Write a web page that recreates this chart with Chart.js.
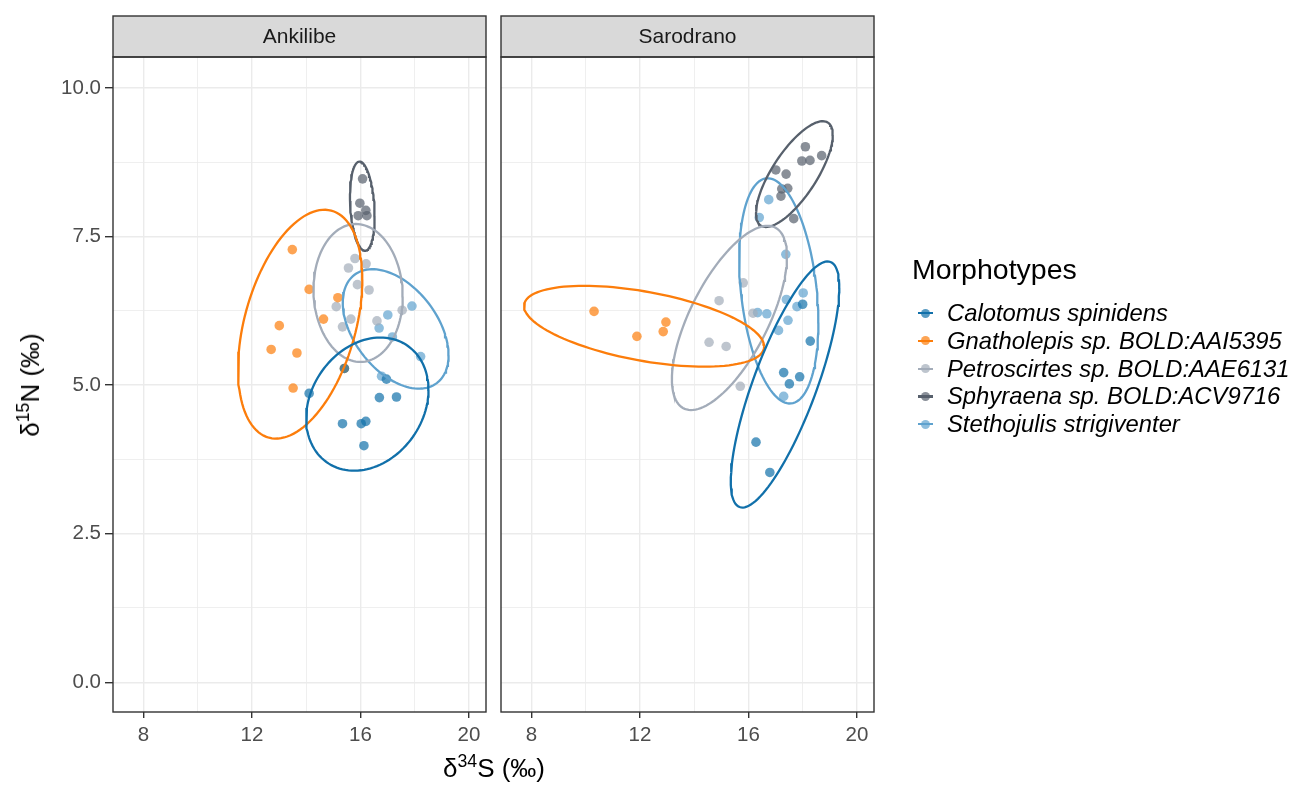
<!DOCTYPE html>
<html><head><meta charset="utf-8">
<script src="https://cdn.jsdelivr.net/npm/chart.js@4/dist/chart.umd.min.js"></script>
<style>
body{margin:0;background:#fff;}
#wrap{position:relative;width:1301px;height:785px;font-family:"Liberation Sans",Arial,sans-serif;overflow:hidden;}
canvas{position:absolute;left:0;top:0;}
.axtitle{position:absolute;white-space:nowrap;font-size:26px;color:#000;line-height:1;}
.axtitle sup{font-size:68%;vertical-align:0.55em;line-height:0;}
#ytitle{left:30px;top:385px;transform:translate(-50%,-50%) rotate(-90deg);}
#xtitle{left:494px;top:768px;transform:translate(-50%,-50%);}
#legTitle{position:absolute;left:912px;top:252px;font-size:28.5px;line-height:34px;color:#000;white-space:nowrap;}
.legRow{position:absolute;left:915px;height:28px;display:flex;align-items:center;white-space:nowrap;}
.legKey{position:relative;width:22px;height:28px;margin-right:10px;}
.legKey .ln{position:absolute;left:3px;width:15px;top:13px;height:2.2px;}
.legKey .pt{position:absolute;left:6px;top:9.5px;width:9px;height:9px;border-radius:50%;}
.legText{font-size:23.8px;font-style:italic;color:#000;}
</style></head><body>
<div id="wrap">
<canvas id="c1" width="1301" height="785"></canvas>
<canvas id="c2" width="1301" height="785"></canvas>
<div id="ytitle" class="axtitle">δ<sup>15</sup>N (‰)</div>
<div id="xtitle" class="axtitle">δ<sup>34</sup>S (‰)</div>
<div id="legTitle">Morphotypes</div>
<div id="legRows"></div>
</div>
<script>
// ---------- data ----------
const sites = ['Ankilibe', 'Sarodrano'];
const species = ['Calotomus spinidens', 'Gnatholepis sp. BOLD:AAI5395', 'Petroscirtes sp. BOLD:AAE6131', 'Sphyraena sp. BOLD:ACV9716', 'Stethojulis strigiventer'];
const colors = ['#1170AA', '#FC7D0B', '#A3ACB9', '#57606C', '#5FA2CE'];
const legendTitle = 'Morphotypes';

const xMajorTicks = [8, 12, 16, 20];
const xMinorTicks = [10, 14, 18];
const yMajorTicks = [0, 2.5, 5, 7.5, 10];
const yMinorTicks = [1.25, 3.75, 6.25, 8.75];

// Ankilibe: d34S (x) and d15N (y) per morphotype
const ank_calotomus_S = [14.11, 15.41, 16.96, 16.70, 17.33, 15.34, 16.03, 16.20, 16.13];
const ank_calotomus_N = [4.86, 5.28, 5.10, 4.79, 4.80, 4.35, 4.35, 4.39, 3.98];
const ank_gnatholepis_S = [13.49, 14.11, 15.17, 14.64, 13.01, 12.71, 13.66, 13.52, 15.41];
const ank_gnatholepis_N = [7.28, 6.61, 6.47, 6.11, 6.00, 5.60, 5.54, 4.95, 5.28];
const ank_petroscirtes_S = [15.80, 16.21, 15.56, 15.89, 16.32, 15.11, 17.54, 15.65, 16.61, 15.34];
const ank_petroscirtes_N = [7.13, 7.04, 6.97, 6.69, 6.60, 6.32, 6.26, 6.11, 6.08, 5.98];
const ank_sphyraena_S = [16.08, 15.98, 16.20, 15.92, 16.24];
const ank_sphyraena_N = [8.47, 8.06, 7.94, 7.85, 7.85];
const ank_stethojulis_S = [17.90, 17.01, 16.69, 17.18, 18.22, 16.78];
const ank_stethojulis_N = [6.33, 6.18, 5.96, 5.81, 5.48, 5.15];

// Sarodrano
const sar_calotomus_S = [18.00, 18.28, 17.30, 17.89, 17.51, 16.28, 16.79];
const sar_calotomus_N = [6.36, 5.74, 5.21, 5.14, 5.02, 4.04, 3.53];
const sar_gnatholepis_S = [10.31, 11.89, 12.96, 12.86];
const sar_gnatholepis_N = [6.24, 5.82, 6.06, 5.90];
const sar_petroscirtes_S = [14.92, 15.81, 14.55, 15.18, 16.17, 15.70];
const sar_petroscirtes_N = [6.42, 6.72, 5.72, 5.65, 6.21, 4.98];
const sar_sphyraena_S = [18.10, 18.70, 17.97, 18.27, 17.01, 17.39, 17.45, 17.23, 17.20, 17.67];
const sar_sphyraena_N = [9.01, 8.86, 8.77, 8.78, 8.62, 8.55, 8.31, 8.30, 8.18, 7.80];
const sar_stethojulis_S = [16.75, 16.40, 17.38, 16.34, 16.68, 17.40, 18.02, 17.79, 17.46, 17.11, 17.30];
const sar_stethojulis_N = [8.12, 7.82, 7.20, 6.22, 6.20, 6.44, 6.55, 6.32, 6.09, 5.92, 4.81];

// 95% ellipses (data units):
// centre x, centre y, half-width in x, half-height in y, shift of the top point (fraction of half-width)
const ank_ell_cx = [16.255, 13.78, 15.915, 16.07, 17.30];
const ank_ell_cy = [4.68, 6.025, 6.55, 8.01, 5.945];
const ank_ell_rx = [2.255, 2.29, 1.645, 0.455, 1.95];
const ank_ell_ry = [1.12, 1.925, 1.16, 0.75, 1.005];
const ank_ell_tilt = [0.215, 0.39, -0.05, -0.22, -0.44];

const sar_ell_cx = [17.35, 12.155, 15.30, 17.695, 17.12];
const sar_ell_cy = [5.01, 5.99, 6.13, 8.55, 6.585];
const sar_ell_rx = [2.0, 4.425, 2.12, 1.415, 1.46];
const sar_ell_ry = [2.07, 0.68, 1.55, 0.89, 1.895];
const sar_ell_tilt = [0.785, -0.50, 0.665, 0.74, -0.28];

const xMin = 6.88, xMax = 20.63, yMin = -0.5, yMax = 10.52;

// ---------- helpers ----------
function alpha(hex, a) {
  const n = parseInt(hex.slice(1), 16);
  return `rgba(${(n >> 16) & 255},${(n >> 8) & 255},${n & 255},${a})`;
}
function pts(xs, ys) { return xs.map((x, i) => ({ x: x, y: ys[i] })); }
function ellipse(cx, cy, rx, ry, tilt) {
  const d = Math.asin(Math.max(-1, Math.min(1, tilt)));
  const out = [];
  for (let k = 0; k <= 120; k++) {
    const t = 2 * Math.PI * k / 120;
    out.push({ x: cx + rx * Math.cos(t), y: cy + ry * Math.sin(t + d) });
  }
  return out;
}

const ankPoints = [pts(ank_calotomus_S, ank_calotomus_N), pts(ank_gnatholepis_S, ank_gnatholepis_N),
  pts(ank_petroscirtes_S, ank_petroscirtes_N), pts(ank_sphyraena_S, ank_sphyraena_N), pts(ank_stethojulis_S, ank_stethojulis_N)];
const sarPoints = [pts(sar_calotomus_S, sar_calotomus_N), pts(sar_gnatholepis_S, sar_gnatholepis_N),
  pts(sar_petroscirtes_S, sar_petroscirtes_N), pts(sar_sphyraena_S, sar_sphyraena_N), pts(sar_stethojulis_S, sar_stethojulis_N)];

function datasets(pointSets, cx, cy, rx, ry, tilt) {
  const ds = [];
  species.forEach((sp, i) => {
    ds.push({
      type: 'scatter', label: sp, data: pointSets[i], order: 2,
      backgroundColor: alpha(colors[i], 0.7), borderWidth: 0, pointRadius: 4.8, pointHoverRadius: 4.8
    });
  });
  species.forEach((sp, i) => {
    ds.push({
      type: 'scatter', label: sp + ' ellipse', data: ellipse(cx[i], cy[i], rx[i], ry[i], tilt[i]), order: 1,
      showLine: true, borderColor: colors[i], borderWidth: 2.3, pointRadius: 0, pointHoverRadius: 0, tension: 0, fill: false
    });
  });
  return ds;
}

const panelDecor = {
  id: 'panelDecor',
  afterDraw(chart, args, opts) {
    const { ctx, chartArea: a } = chart;
    const stripTop = 16;
    ctx.save();
    ctx.fillStyle = '#d9d9d9';
    ctx.fillRect(a.left, stripTop, a.right - a.left, a.top - stripTop);
    ctx.strokeStyle = '#333333';
    ctx.lineWidth = 1.4;
    ctx.strokeRect(a.left, stripTop, a.right - a.left, a.top - stripTop);
    ctx.strokeRect(a.left, a.top, a.right - a.left, a.bottom - a.top);
    ctx.fillStyle = '#1a1a1a';
    ctx.font = '21px "Liberation Sans", Arial, sans-serif';
    ctx.textAlign = 'center';
    ctx.textBaseline = 'middle';
    ctx.fillText(opts.label, (a.left + a.right) / 2, (stripTop + a.top) / 2 + 1);
    ctx.restore();
  }
};

Chart.defaults.font.family = '"Liberation Sans", Arial, sans-serif';
Chart.defaults.animation = false;

function isIn(list, v) { return list.some(t => Math.abs(t - v) < 1e-6); }

function makeChart(id, site, ds, padLeft, padRight, showY) {
  return new Chart(document.getElementById(id), {
    type: 'scatter',
    data: { datasets: ds },
    plugins: [panelDecor],
    options: {
      responsive: false,
      devicePixelRatio: 1,
      animation: false,
      events: [],
      layout: { padding: { left: padLeft, right: padRight, top: 57, bottom: 0 } },
      plugins: { legend: { display: false }, tooltip: { enabled: false }, title: { display: false }, panelDecor: { label: site } },
      scales: {
        x: {
          type: 'linear', min: xMin, max: xMax,
          afterBuildTicks: s => { s.ticks = xMajorTicks.concat(xMinorTicks).sort((a, b) => a - b).map(v => ({ value: v })); },
          afterFit: s => { s.height = 73; },
          border: { display: false },
          grid: {
            color: '#ebebeb',
            lineWidth: c => (c.tick && isIn(xMajorTicks, c.tick.value)) ? 1.4 : 0.8,
            tickColor: c => (c.tick && isIn(xMajorTicks, c.tick.value)) ? '#333333' : 'rgba(0,0,0,0)',
            tickLength: 6, tickWidth: 1.4
          },
          ticks: {
            autoSkip: false, maxRotation: 0, padding: 5, color: '#4d4d4d', font: { size: 20.5 },
            callback: v => isIn(xMajorTicks, v) ? String(v) : ''
          }
        },
        y: {
          type: 'linear', min: yMin, max: yMax,
          afterBuildTicks: s => { s.ticks = yMajorTicks.concat(yMinorTicks).sort((a, b) => a - b).map(v => ({ value: v })); },
          afterFit: s => { s.width = showY ? 113 : 0; },
          border: { display: false },
          grid: {
            color: '#ebebeb',
            lineWidth: c => (c.tick && isIn(yMajorTicks, c.tick.value)) ? 1.4 : 0.8,
            tickColor: c => (showY && c.tick && isIn(yMajorTicks, c.tick.value)) ? '#333333' : 'rgba(0,0,0,0)',
            drawTicks: showY, tickLength: 8, tickWidth: 1.4
          },
          ticks: {
            display: showY, autoSkip: false, padding: 4, color: '#4d4d4d', font: { size: 20.5 },
            callback: v => isIn(yMajorTicks, v) ? v.toFixed(1) : ''
          }
        }
      }
    }
  });
}

makeChart('c1', sites[0], datasets(ankPoints, ank_ell_cx, ank_ell_cy, ank_ell_rx, ank_ell_ry, ank_ell_tilt), 0, 1301 - 486, true);
makeChart('c2', sites[1], datasets(sarPoints, sar_ell_cx, sar_ell_cy, sar_ell_rx, sar_ell_ry, sar_ell_tilt), 501, 1301 - 874, false);

// ---------- legend ----------
document.getElementById('legTitle').textContent = legendTitle;
const rows = document.getElementById('legRows');
species.forEach((sp, i) => {
  const r = document.createElement('div');
  r.className = 'legRow';
  r.style.top = (299 + i * 27.8) + 'px';
  r.innerHTML = `<div class="legKey"><div class="ln" style="background:${colors[i]}"></div><div class="pt" style="background:${alpha(colors[i], 0.7)}"></div></div><span class="legText"></span>`;
  r.querySelector('.legText').textContent = sp;
  rows.appendChild(r);
});
</script>
</body></html>
